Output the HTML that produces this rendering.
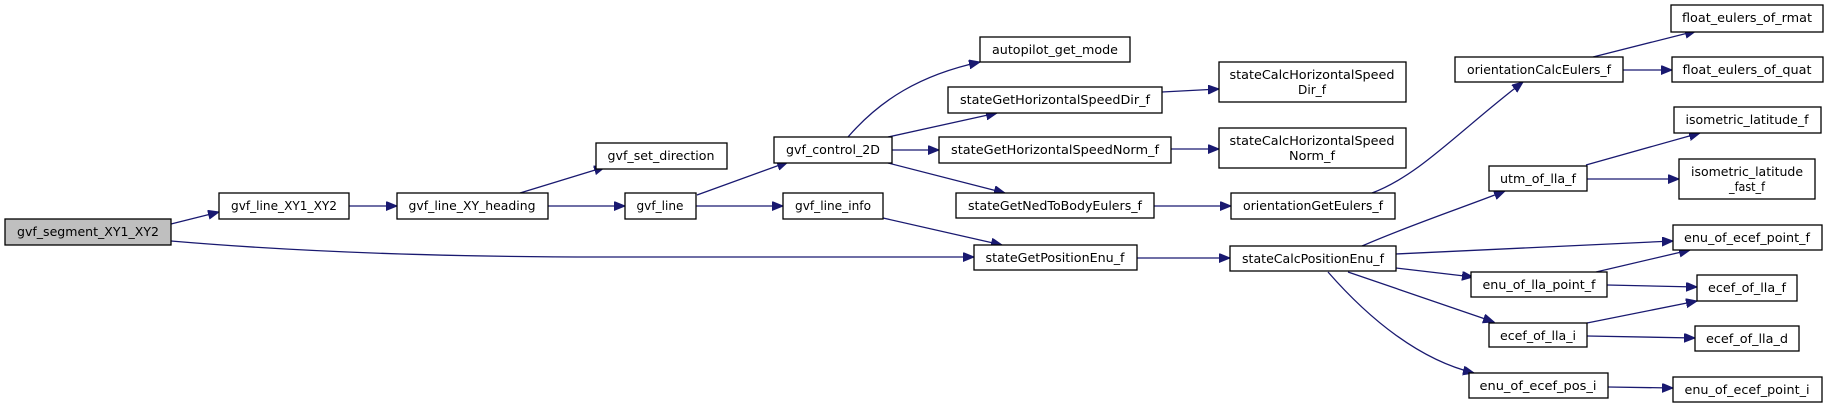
<!DOCTYPE html>
<html><head><meta charset="utf-8"><style>
html,body{margin:0;padding:0;background:#fff;}
svg{display:block;}
text{font-family:"DejaVu Sans","Liberation Sans",sans-serif;font-size:12px;fill:#000;}
.n{fill:#fff;stroke:#000;stroke-width:1.3;}
.e{fill:none;stroke:#191970;stroke-width:1.3;}
</style></head><body>
<svg width="1829" height="408" viewBox="0 0 1829 408" xmlns="http://www.w3.org/2000/svg">
<defs><marker id="a" markerUnits="userSpaceOnUse" markerWidth="12" markerHeight="10" refX="11" refY="4.5" orient="auto"><path d="M0,0 L11,4.5 L0,9 z" fill="#191970" stroke="#191970"/></marker></defs>
<g>
<path class="e" marker-end="url(#a)" d="M171,224 L219,212"/>
<path class="e" marker-end="url(#a)" d="M171,241 C300,252 450,257 600,257 L974,257"/>
<path class="e" marker-end="url(#a)" d="M349,206 L397,206"/>
<path class="e" marker-end="url(#a)" d="M520,193 L605,167"/>
<path class="e" marker-end="url(#a)" d="M548,206 L625,206"/>
<path class="e" marker-end="url(#a)" d="M697,195 L788,162"/>
<path class="e" marker-end="url(#a)" d="M696,206 L783,206"/>
<path class="e" marker-end="url(#a)" d="M883,218 L1002,245"/>
<path class="e" marker-end="url(#a)" d="M848,137 C880,100 920,75 980,62"/>
<path class="e" marker-end="url(#a)" d="M888,137 L997,113"/>
<path class="e" marker-end="url(#a)" d="M892,150 L939,150"/>
<path class="e" marker-end="url(#a)" d="M888,163 L1005,193"/>
<path class="e" marker-end="url(#a)" d="M1162,92 L1219,89"/>
<path class="e" marker-end="url(#a)" d="M1171,149 L1219,149"/>
<path class="e" marker-end="url(#a)" d="M1154,206 L1231,206"/>
<path class="e" marker-end="url(#a)" d="M1137,258 L1230,258"/>
<path class="e" marker-end="url(#a)" d="M1372,193 C1420,175 1460,130 1523,82"/>
<path class="e" marker-end="url(#a)" d="M1593,57 L1696,31"/>
<path class="e" marker-end="url(#a)" d="M1623,70 L1672,70"/>
<path class="e" marker-end="url(#a)" d="M1362,246 C1410,225 1470,205 1505,191"/>
<path class="e" marker-end="url(#a)" d="M1396,254 L1673,241"/>
<path class="e" marker-end="url(#a)" d="M1396,268 L1473,277"/>
<path class="e" marker-end="url(#a)" d="M1348,272 L1494,322"/>
<path class="e" marker-end="url(#a)" d="M1328,272 C1370,320 1420,360 1474,373"/>
<path class="e" marker-end="url(#a)" d="M1586,165 L1700,133"/>
<path class="e" marker-end="url(#a)" d="M1587,179 L1679,179"/>
<path class="e" marker-end="url(#a)" d="M1596,272 L1690,250"/>
<path class="e" marker-end="url(#a)" d="M1607,285 L1697,287"/>
<path class="e" marker-end="url(#a)" d="M1587,323 L1697,301"/>
<path class="e" marker-end="url(#a)" d="M1587,336 L1695,338"/>
<path class="e" marker-end="url(#a)" d="M1608,387 L1673,388"/>
</g>
<g>
<rect x="5" y="219" width="166" height="26" fill="#bfbfbf" stroke="#000" stroke-width="1.3"/>
<text x="88" y="236" text-anchor="middle" textLength="142" lengthAdjust="spacingAndGlyphs">gvf_segment_XY1_XY2</text>

<rect class="n" x="219" y="193" width="130" height="26"/>
<text x="284" y="210" text-anchor="middle" textLength="106" lengthAdjust="spacingAndGlyphs">gvf_line_XY1_XY2</text>

<rect class="n" x="397" y="193" width="151" height="26"/>
<text x="472" y="210" text-anchor="middle" textLength="127" lengthAdjust="spacingAndGlyphs">gvf_line_XY_heading</text>

<rect class="n" x="596" y="143" width="131" height="26"/>
<text x="661" y="160" text-anchor="middle" textLength="107" lengthAdjust="spacingAndGlyphs">gvf_set_direction</text>

<rect class="n" x="625" y="193" width="71" height="26"/>
<text x="660" y="210" text-anchor="middle" textLength="47" lengthAdjust="spacingAndGlyphs">gvf_line</text>

<rect class="n" x="774" y="137" width="118" height="26"/>
<text x="833" y="154" text-anchor="middle" textLength="94" lengthAdjust="spacingAndGlyphs">gvf_control_2D</text>

<rect class="n" x="783" y="193" width="100" height="26"/>
<text x="833" y="210" text-anchor="middle" textLength="76" lengthAdjust="spacingAndGlyphs">gvf_line_info</text>

<rect class="n" x="980" y="37" width="150" height="25"/>
<text x="1055" y="54" text-anchor="middle" textLength="126" lengthAdjust="spacingAndGlyphs">autopilot_get_mode</text>

<rect class="n" x="948" y="87" width="214" height="26"/>
<text x="1055" y="104" text-anchor="middle" textLength="190" lengthAdjust="spacingAndGlyphs">stateGetHorizontalSpeedDir_f</text>

<rect class="n" x="939" y="137" width="232" height="26"/>
<text x="1055" y="154" text-anchor="middle" textLength="208" lengthAdjust="spacingAndGlyphs">stateGetHorizontalSpeedNorm_f</text>

<rect class="n" x="956" y="193" width="198" height="25"/>
<text x="1055" y="210" text-anchor="middle" textLength="174" lengthAdjust="spacingAndGlyphs">stateGetNedToBodyEulers_f</text>

<rect class="n" x="974" y="245" width="163" height="25"/>
<text x="1055" y="262" text-anchor="middle" textLength="139" lengthAdjust="spacingAndGlyphs">stateGetPositionEnu_f</text>

<rect class="n" x="1219" y="62" width="187" height="40"/>
<text x="1312" y="79" text-anchor="middle" textLength="165" lengthAdjust="spacingAndGlyphs">stateCalcHorizontalSpeed</text>
<text x="1312" y="94" text-anchor="middle" textLength="28" lengthAdjust="spacingAndGlyphs">Dir_f</text>

<rect class="n" x="1219" y="128" width="187" height="40"/>
<text x="1312" y="145" text-anchor="middle" textLength="165" lengthAdjust="spacingAndGlyphs">stateCalcHorizontalSpeed</text>
<text x="1312" y="160" text-anchor="middle" textLength="46" lengthAdjust="spacingAndGlyphs">Norm_f</text>

<rect class="n" x="1231" y="193" width="164" height="26"/>
<text x="1313" y="210" text-anchor="middle" textLength="140" lengthAdjust="spacingAndGlyphs">orientationGetEulers_f</text>

<rect class="n" x="1230" y="246" width="166" height="25"/>
<text x="1313" y="263" text-anchor="middle" textLength="142" lengthAdjust="spacingAndGlyphs">stateCalcPositionEnu_f</text>

<rect class="n" x="1455" y="57" width="168" height="25"/>
<text x="1539" y="74" text-anchor="middle" textLength="144" lengthAdjust="spacingAndGlyphs">orientationCalcEulers_f</text>

<rect class="n" x="1671" y="5" width="152" height="27"/>
<text x="1747" y="22" text-anchor="middle" textLength="130" lengthAdjust="spacingAndGlyphs">float_eulers_of_rmat</text>

<rect class="n" x="1672" y="57" width="151" height="25"/>
<text x="1747" y="74" text-anchor="middle" textLength="129" lengthAdjust="spacingAndGlyphs">float_eulers_of_quat</text>

<rect class="n" x="1674" y="107" width="147" height="26"/>
<text x="1747" y="124" text-anchor="middle" textLength="123" lengthAdjust="spacingAndGlyphs">isometric_latitude_f</text>

<rect class="n" x="1679" y="159" width="136" height="40"/>
<text x="1747" y="176" text-anchor="middle" textLength="112" lengthAdjust="spacingAndGlyphs">isometric_latitude</text>
<text x="1747" y="191" text-anchor="middle" textLength="36" lengthAdjust="spacingAndGlyphs">_fast_f</text>

<rect class="n" x="1489" y="166" width="98" height="25"/>
<text x="1538" y="183" text-anchor="middle" textLength="76" lengthAdjust="spacingAndGlyphs">utm_of_lla_f</text>

<rect class="n" x="1673" y="225" width="149" height="25"/>
<text x="1747" y="242" text-anchor="middle" textLength="126" lengthAdjust="spacingAndGlyphs">enu_of_ecef_point_f</text>

<rect class="n" x="1471" y="272" width="136" height="25"/>
<text x="1539" y="289" text-anchor="middle" textLength="113" lengthAdjust="spacingAndGlyphs">enu_of_lla_point_f</text>

<rect class="n" x="1697" y="275" width="100" height="26"/>
<text x="1747" y="292" text-anchor="middle" textLength="78" lengthAdjust="spacingAndGlyphs">ecef_of_lla_f</text>

<rect class="n" x="1489" y="323" width="98" height="24"/>
<text x="1538" y="340" text-anchor="middle" textLength="76" lengthAdjust="spacingAndGlyphs">ecef_of_lla_i</text>

<rect class="n" x="1695" y="326" width="104" height="25"/>
<text x="1747" y="343" text-anchor="middle" textLength="82" lengthAdjust="spacingAndGlyphs">ecef_of_lla_d</text>

<rect class="n" x="1469" y="373" width="139" height="25"/>
<text x="1538" y="390" text-anchor="middle" textLength="117" lengthAdjust="spacingAndGlyphs">enu_of_ecef_pos_i</text>

<rect class="n" x="1673" y="377" width="149" height="25"/>
<text x="1747" y="394" text-anchor="middle" textLength="125" lengthAdjust="spacingAndGlyphs">enu_of_ecef_point_i</text>
</g>
</svg>
</body></html>
